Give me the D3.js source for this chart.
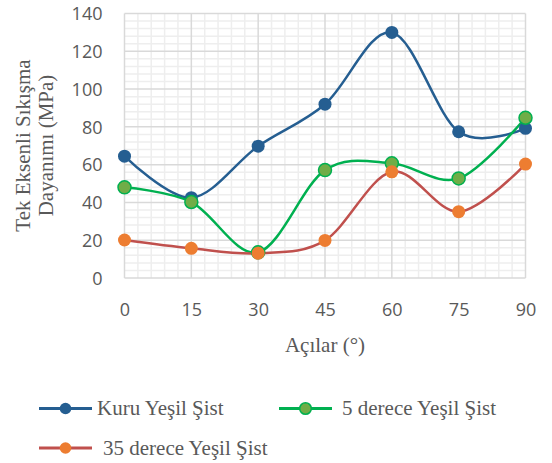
<!DOCTYPE html>
<html><head><meta charset="utf-8">
<script src="https://cdn.jsdelivr.net/npm/d3@7"></script>
<style>
html,body{margin:0;padding:0;background:#fff;}
svg{display:block;}
</style></head>
<body>
<svg id="chart" width="552" height="463"></svg>
<script>
const angles = [0, 15, 30, 45, 60, 75, 90];
const kuru = [64.5, 42.5, 69.8, 92, 130, 77.4, 79.2];
const derece5 = [48, 40.2, 13.6, 57.1, 60.7, 52.7, 84.8];
const derece35 = [20.1, 15.7, 13.1, 19.9, 56.2, 35.1, 60.3];
const seriesNames = ["Kuru Yeşil Şist", "5 derece Yeşil Şist", "35 derece Yeşil Şist"];
const yTicks = [0, 20, 40, 60, 80, 100, 120, 140];
const xTicks = [0, 15, 30, 45, 60, 75, 90];
const xTitle = "Açılar (°)";
const yTitle = ["Tek Eksenli Sıkışma", "Dayanımı (MPa)"];

const SERIF = "'Liberation Serif', 'Times New Roman', Times, serif";
const svg = d3.select("#chart");
const x = d3.scaleLinear().domain([0, 90]).range([124.5, 525.5]);
const y = d3.scaleLinear().domain([0, 140]).range([278, 13.5]);

const styles = [
  {line: "#255e91", fill: "#255e91", stroke: "#255e91", sw: 0},
  {line: "#00b050", fill: "#70ad47", stroke: "#00b050", sw: 1.5},
  {line: "#c0504d", fill: "#ed7d31", stroke: "#ed7d31", sw: 0}
];
const data = [kuru, derece5, derece35];

// grid
const g = svg.append("g");
const minorX = d3.range(0, 91, 3).filter(v => v % 15 !== 0);
const minorY = d3.range(0, 141, 4).filter(v => v % 20 !== 0);
g.selectAll(".mx").data(minorX).join("line")
  .attr("x1", d => x(d)).attr("x2", d => x(d)).attr("y1", y(0)).attr("y2", y(140))
  .attr("stroke", "#eeeeee").attr("stroke-width", 1.5);
g.selectAll(".my").data(minorY).join("line")
  .attr("y1", d => y(d)).attr("y2", d => y(d)).attr("x1", x(0)).attr("x2", x(90))
  .attr("stroke", "#eeeeee").attr("stroke-width", 1.5);
g.selectAll(".Mx").data(xTicks).join("line")
  .attr("x1", d => x(d)).attr("x2", d => x(d)).attr("y1", y(0)).attr("y2", y(140))
  .attr("stroke", "#d9d9d9").attr("stroke-width", 1.5);
g.selectAll(".My").data(yTicks).join("line")
  .attr("y1", d => y(d)).attr("y2", d => y(d)).attr("x1", x(0)).attr("x2", x(90))
  .attr("stroke", "#d9d9d9").attr("stroke-width", 1.5);

// axes
const yAxis = svg.append("g").attr("transform", `translate(${x(0) - 22},0)`)
  .call(d3.axisLeft(y).tickValues(yTicks).tickSize(0).tickPadding(0));
yAxis.select(".domain").remove();
yAxis.selectAll("text").attr("font-family", "'Open Sans', sans-serif").attr("font-size", 18)
  .attr("fill", "#595959").attr("dy", "0.35em");

const xAxis = svg.append("g").attr("transform", `translate(0,${y(0) + 32})`)
  .call(d3.axisBottom(x).tickValues(xTicks).tickSize(0).tickPadding(0));
xAxis.select(".domain").remove();
xAxis.selectAll("text").attr("font-family", "'Open Sans', sans-serif").attr("font-size", 18)
  .attr("fill", "#595959").attr("dy", "0.35em");

// titles
svg.append("text").attr("x", 325).attr("y", 352).attr("text-anchor", "middle")
  .attr("font-family", SERIF).attr("font-size", 21)
  .attr("fill", "#595959").text(xTitle);
svg.append("text").attr("transform", `translate(30,145.5) rotate(-90)`)
  .attr("text-anchor", "middle").attr("font-family", SERIF).attr("font-size", 21)
  .attr("fill", "#595959").text(yTitle[0]);
svg.append("text").attr("transform", `translate(53,145.5) rotate(-90)`)
  .attr("text-anchor", "middle").attr("font-family", SERIF).attr("font-size", 21)
  .attr("fill", "#595959").text(yTitle[1]);

// lines
const line = d3.line().x((d, i) => x(angles[i])).y(d => y(d)).curve(d3.curveCatmullRom.alpha(0));
data.forEach((s, k) => {
  svg.append("path").datum(s).attr("d", line).attr("fill", "none")
    .attr("stroke", styles[k].line).attr("stroke-width", 2.5);
});
data.forEach((s, k) => {
  svg.append("g").selectAll("circle").data(s).join("circle")
    .attr("cx", (d, i) => x(angles[i])).attr("cy", d => y(d)).attr("r", 6.5)
    .attr("fill", styles[k].fill).attr("stroke", styles[k].stroke).attr("stroke-width", styles[k].sw);
});

// legend
const legendPos = [{x: 39, y: 408.5, tx: 97}, {x: 279, y: 408.5, tx: 342}, {x: 39, y: 448, tx: 103}];
seriesNames.forEach((name, k) => {
  const p = legendPos[k];
  const lg = svg.append("g");
  lg.append("line").attr("x1", p.x).attr("x2", p.x + 53).attr("y1", p.y).attr("y2", p.y)
    .attr("stroke", styles[k].line).attr("stroke-width", 3);
  lg.append("circle").attr("cx", p.x + 26.5).attr("cy", p.y).attr("r", 5.8)
    .attr("fill", styles[k].fill).attr("stroke", styles[k].stroke).attr("stroke-width", styles[k].sw);
  lg.append("text").attr("x", p.tx).attr("y", p.y).attr("dy", "0.32em")
    .attr("font-family", SERIF).attr("font-size", 21)
    .attr("fill", "#595959").text(name);
});
</script>
</body></html>
